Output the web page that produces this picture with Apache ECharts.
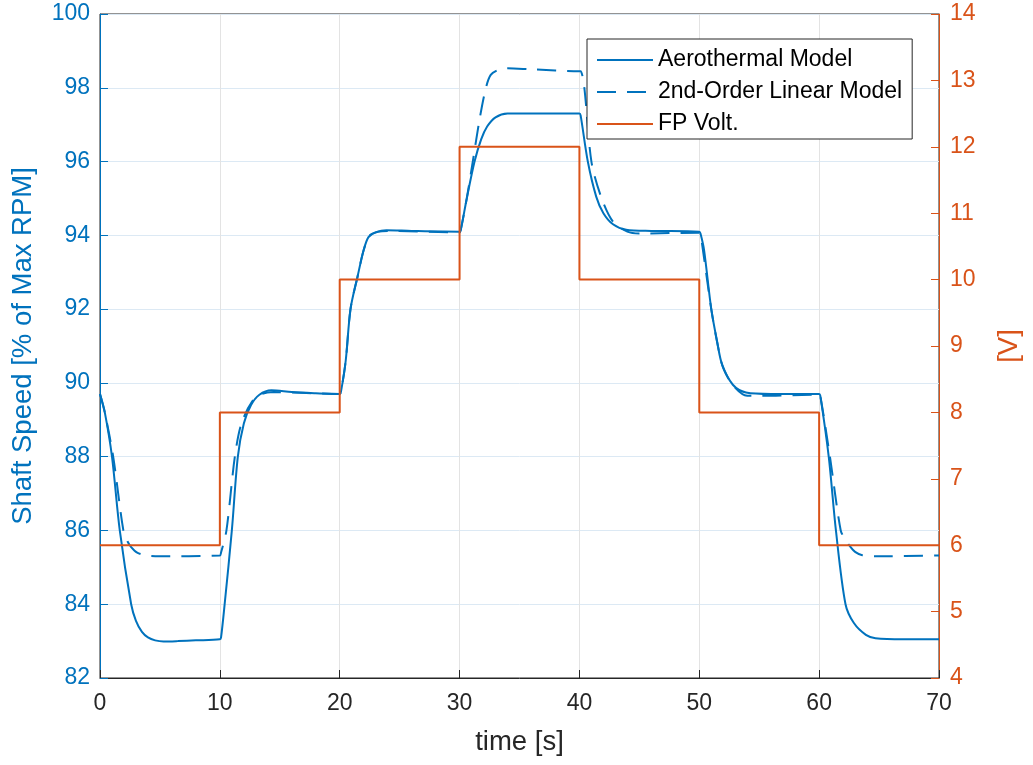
<!DOCTYPE html>
<html>
<head>
<meta charset="utf-8">
<script src="https://cdn.jsdelivr.net/npm/echarts@6/dist/echarts.min.js"></script>
<style>
  html, body { margin: 0; padding: 0; background: #fff; }
  #chart { width: 1033px; height: 765px; }
</style>
</head>
<body>
<div id="chart"></div>
<script>
  // values
  var aeroTime = [0, 0.4, 1.0, 1.65, 2.6, 3.0, 3.5, 4.0, 4.6, 5.3, 6.5, 8, 10,
    10.1, 10.4, 11.0, 11.5, 12.0, 12.6, 13.3, 14.3, 16, 18, 20,
    20.1, 20.5, 20.9, 21.5, 22.0, 22.4, 23.0, 23.9, 26, 30,
    30.1, 30.6, 31.25, 31.8, 32.3, 33.0, 34.0, 37, 40,
    40.1, 40.7, 41.4, 42.0, 42.8, 43.9, 46, 50,
    50.1, 50.4, 51.0, 51.5, 51.9, 52.8, 53.9, 56, 60,
    60.1, 60.8, 61.4, 62.2, 62.9, 63.9, 64.7, 67, 70];
  var aeroSpeed = [89.7, 89.2, 88.0, 86.0, 84.0, 83.55, 83.25, 83.1, 83.02, 82.99, 83.0, 83.02, 83.05,
    83.1, 84.0, 86.0, 88.0, 88.9, 89.4, 89.68, 89.8, 89.75, 89.72, 89.7,
    89.75, 90.6, 92.0, 92.9, 93.6, 93.95, 94.08, 94.14, 94.12, 94.1,
    94.15, 95.0, 96.0, 96.6, 96.95, 97.2, 97.3, 97.3, 97.3,
    97.25, 96.0, 95.05, 94.6, 94.3, 94.15, 94.12, 94.1,
    94.05, 93.6, 92.0, 91.1, 90.5, 89.95, 89.74, 89.7, 89.7,
    89.65, 88.0, 86.0, 84.0, 83.49, 83.17, 83.08, 83.05, 83.05];

  var linTime = [0, 0.4, 1.1, 1.95, 2.3, 2.6, 3.1, 3.9, 5, 10,
    10.1, 10.55, 11.25, 11.8, 12.7, 13.5, 14.5, 20,
    20.1, 20.5, 20.9, 21.5, 22.0, 22.5, 23.2, 24, 30,
    30.1, 30.6, 31.1, 31.7, 32.2, 32.6, 33.2, 34.0, 36, 40,
    40.1, 40.4, 41.0, 41.8, 42.8, 44.0, 45, 50,
    50.1, 51.0, 51.55, 52.0, 52.9, 54.0, 55, 60,
    60.1, 60.9, 61.8, 62.2, 62.6, 63.0, 63.6, 65, 70];
  var linSpeed = [89.7, 89.2, 88.0, 86.0, 85.7, 85.55, 85.4, 85.32, 85.3, 85.32,
    85.4, 86.0, 88.0, 88.9, 89.5, 89.7, 89.75, 89.7,
    89.75, 90.6, 92.0, 92.9, 93.6, 94.0, 94.1, 94.12, 94.08,
    94.15, 95.0, 96.0, 97.2, 98.0, 98.35, 98.48, 98.53, 98.5, 98.45,
    98.45, 98.03, 96.0, 95.05, 94.37, 94.1, 94.05, 94.07,
    94.05, 92.0, 91.0, 90.4, 89.9, 89.65, 89.65, 89.68,
    89.65, 88.0, 86.0, 85.75, 85.56, 85.42, 85.33, 85.3, 85.32];

  var voltTime = [0, 10, 20, 30, 40, 50, 60, 70];
  var voltValue = [6, 8, 10, 12, 10, 8, 6, 6];

  function pairs(xs, ys) {
    return xs.map(function (x, i) { return [x, ys[i]]; });
  }

  var blue = '#0072BD';
  var orange = '#D95319';
  var font = 'Liberation Sans, Arial, Helvetica, sans-serif';

  var chart = echarts.init(document.getElementById('chart'));
  chart.setOption({
    animation: false,
    backgroundColor: '#fff',
    grid: {
      left: 100, right: 94, top: 14, bottom: 87,
      show: true, borderColor: '#262626', borderWidth: 1
    },
    legend: {
      orient: 'vertical',
      left: 587, top: 39,
      padding: [9, 10, 3, 9],
      itemWidth: 56, itemHeight: 14, itemGap: 8,
      borderColor: '#262626', borderWidth: 1, borderRadius: 0,
      backgroundColor: '#fff',
      itemStyle: { opacity: 0 },
      textStyle: { fontFamily: font, fontSize: 23, color: '#000', lineHeight: 24 },
      data: ['Aerothermal Model', '2nd-Order Linear Model', 'FP Volt.']
    },
    xAxis: {
      type: 'value', min: 0, max: 70, interval: 10,
      name: 'time [s]', nameLocation: 'middle', nameGap: 50,
      nameTextStyle: { fontFamily: font, fontSize: 27.5, color: '#262626' },
      axisLine: { lineStyle: { color: '#262626', width: 1 } },
      axisTick: { inside: true, length: 8, lineStyle: { color: '#262626' } },
      axisLabel: { fontFamily: font, fontSize: 23, color: '#262626', margin: 14 },
      splitLine: { show: true, lineStyle: { color: '#e3e3e3', width: 1 } }
    },
    yAxis: [{
      type: 'value', position: 'left', min: 82, max: 100, interval: 2,
      name: 'Shaft Speed [% of Max RPM]', nameLocation: 'middle', nameGap: 63, nameRotate: 90,
      nameTextStyle: { fontFamily: font, fontSize: 27.5, color: blue },
      axisLine: { show: true, lineStyle: { color: blue, width: 1 } },
      axisTick: { show: true, inside: true, length: 8, lineStyle: { color: blue } },
      axisLabel: { fontFamily: font, fontSize: 23, color: blue, margin: 10 },
      splitLine: { show: true, lineStyle: { color: '#dce9f4', width: 1 } }
    }, {
      type: 'value', position: 'right', min: 4, max: 14, interval: 1,
      name: '[V]', nameLocation: 'middle', nameGap: 56, nameRotate: 90,
      nameTextStyle: { fontFamily: font, fontSize: 27.5, color: orange },
      axisLine: { show: true, lineStyle: { color: orange, width: 1 } },
      axisTick: { show: true, inside: true, length: 8, lineStyle: { color: orange } },
      axisLabel: { fontFamily: font, fontSize: 23, color: orange, margin: 11 },
      splitLine: { show: false }
    }],
    series: [{
      name: 'Aerothermal Model', type: 'line', yAxisIndex: 0,
      showSymbol: false, symbol: 'none', smooth: 0.3,
      lineStyle: { color: blue, width: 2 }, itemStyle: { color: blue },
      data: pairs(aeroTime, aeroSpeed)
    }, {
      name: '2nd-Order Linear Model', type: 'line', yAxisIndex: 0,
      showSymbol: false, symbol: 'none', smooth: 0.3,
      lineStyle: { color: blue, width: 2, type: [19, 11] }, itemStyle: { color: blue },
      data: pairs(linTime, linSpeed)
    }, {
      name: 'FP Volt.', type: 'line', yAxisIndex: 1, step: 'end',
      showSymbol: false, symbol: 'none',
      lineStyle: { color: orange, width: 2 }, itemStyle: { color: orange },
      data: pairs(voltTime, voltValue)
    }]
  });
</script>
</body>
</html>
